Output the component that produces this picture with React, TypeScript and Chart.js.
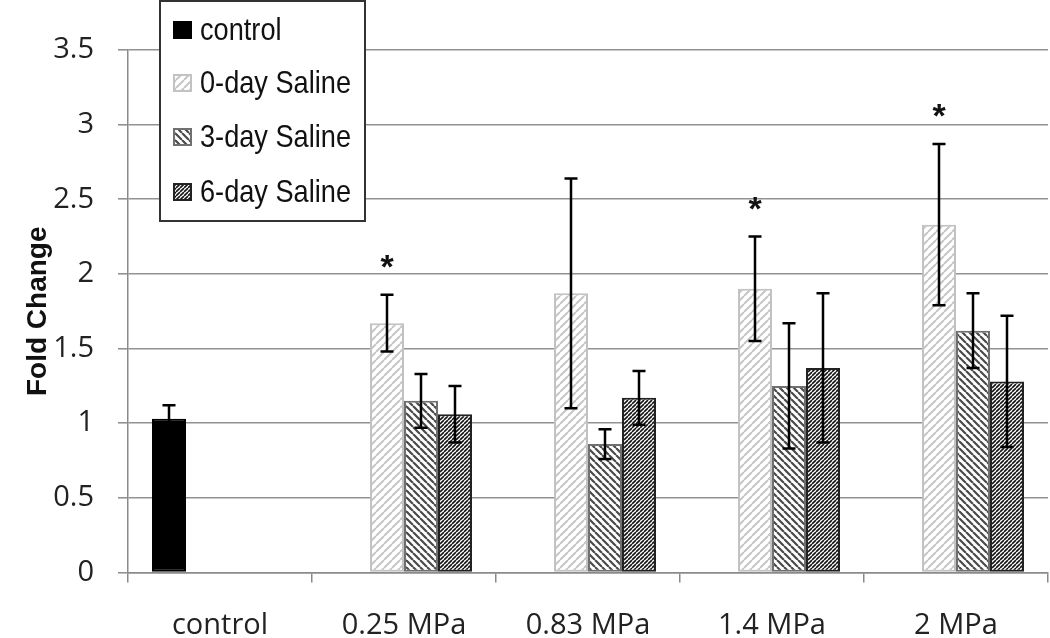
import React, { useEffect, useRef } from 'react';
import { Chart, registerables } from 'chart.js';

Chart.register(...registerables);

const categories = ['control', '0.25 MPa', '0.83 MPa', '1.4 MPa', '2 MPa'];
const seriesNames = ['control', '0-day Saline', '3-day Saline', '6-day Saline'];

const controlValues = [1.03, null, null, null, null];
const controlErr = [0.09, null, null, null, null];
const day0Values = [null, 1.67, 1.87, 1.9, 2.33];
const day0Err = [null, 0.19, 0.77, 0.35, 0.54];
const day3Values = [null, 1.15, 0.86, 1.25, 1.62];
const day3Err = [null, 0.18, 0.1, 0.42, 0.25];
const day6Values = [null, 1.06, 1.17, 1.37, 1.28];
const day6Err = [null, 0.19, 0.18, 0.5, 0.44];
// asterisk shown above the 0-day Saline bar
const significant = [false, true, false, true, true];

const yMin = 0;
const yMax = 3.5;
const yStep = 0.5;

function hatch(size: number, color: string, lw: number, dir: '/' | '\\') {
  const c = document.createElement('canvas');
  c.width = size;
  c.height = size;
  const g = c.getContext('2d')!;
  g.fillStyle = '#ffffff';
  g.fillRect(0, 0, size, size);
  g.strokeStyle = color;
  g.lineWidth = lw;
  g.beginPath();
  for (const x0 of [-size, 0, size]) {
    if (dir === '/') {
      g.moveTo(x0, size);
      g.lineTo(x0 + size, 0);
    } else {
      g.moveTo(x0, 0);
      g.lineTo(x0 + size, size);
    }
  }
  g.stroke();
  const ctx = document.createElement('canvas').getContext('2d')!;
  return ctx.createPattern(c, 'repeat')!;
}

export default function App() {
  const ref = useRef<HTMLCanvasElement>(null);

  useEffect(() => {
    document.body.style.margin = '0';
    const canvas = ref.current!;
    const p0 = hatch(8, '#c6c6c6', 2, '/');
    const p3 = hatch(7, '#4a4a4a', 2.2, '\\');
    const p6 = hatch(4, '#151515', 1.6, '/');

    const styles = [
      { bg: '#000000', border: '#000000' },
      { bg: p0, border: '#c2c2c2' },
      { bg: p3, border: '#707070' },
      { bg: p6, border: '#222222' },
    ];
    const values = [controlValues, day0Values, day3Values, day6Values];
    const errs = [controlErr, day0Err, day3Err, day6Err];

    const overlay = {
      id: 'overlay',
      afterDatasetsDraw(chart: any) {
        const ctx = chart.ctx;
        const ys = chart.scales.y;
        ctx.save();
        ctx.strokeStyle = '#000';
        ctx.lineWidth = 2.5;
        values.forEach((vals, i) => {
          const meta = chart.getDatasetMeta(i);
          vals.forEach((v, j) => {
            const e = errs[i][j];
            if (v == null || e == null) return;
            const x = meta.data[j].x;
            const yt = ys.getPixelForValue(v + e);
            const yb = ys.getPixelForValue(v - e);
            ctx.beginPath();
            ctx.moveTo(x, yt);
            ctx.lineTo(x, yb);
            ctx.moveTo(x - 6.5, yt);
            ctx.lineTo(x + 6.5, yt);
            ctx.moveTo(x - 6.5, yb);
            ctx.lineTo(x + 6.5, yb);
            ctx.stroke();
          });
        });
        // significance asterisks
        const meta0 = chart.getDatasetMeta(1);
        ctx.fillStyle = '#111';
        ctx.font = 'bold 34px "Liberation Sans", Arial, sans-serif';
        ctx.textAlign = 'center';
        ctx.textBaseline = 'alphabetic';
        significant.forEach((s, j) => {
          const v = day0Values[j];
          const e = day0Err[j];
          if (!s || v == null || e == null) return;
          const x = meta0.data[j].x;
          const yt = ys.getPixelForValue(v + e);
          ctx.fillText('*', x, yt - 17);
        });
        ctx.restore();
      },
      afterDraw(chart: any) {
        const ctx = chart.ctx;
        ctx.save();
        // legend box
        const bx = 160, by = 1, bw = 205, bh = 220;
        ctx.fillStyle = '#ffffff';
        ctx.fillRect(bx, by, bw, bh);
        ctx.strokeStyle = '#333';
        ctx.lineWidth = 2;
        ctx.strokeRect(bx, by, bw, bh);
        const rows = [30, 83, 137, 192];
        seriesNames.forEach((name, i) => {
          const cy = rows[i];
          ctx.fillStyle = styles[i].bg as any;
          ctx.fillRect(174, cy - 8, 17, 16);
          ctx.strokeStyle = styles[i].border;
          ctx.lineWidth = 2;
          ctx.strokeRect(174, cy - 8, 17, 16);
          ctx.save();
          ctx.translate(200, cy);
          ctx.scale(0.97, 1.1);
          ctx.fillStyle = '#111';
          ctx.font = '28px "Liberation Sans", Arial, sans-serif';
          ctx.textAlign = 'left';
          ctx.textBaseline = 'middle';
          ctx.fillText(name, 0, 1);
          ctx.restore();
        });
        ctx.restore();
      },
    };

    const chart = new Chart(canvas, {
      type: 'bar',
      data: {
        labels: categories,
        datasets: values.map((vals, i) => ({
          label: seriesNames[i],
          data: vals as any,
          backgroundColor: styles[i].bg as any,
          borderColor: styles[i].border,
          borderWidth: 2,
          borderSkipped: false,
          categoryPercentage: 136 / 184,
          barPercentage: 1,
        })),
      },
      options: {
        responsive: false,
        animation: false,
        devicePixelRatio: 1,
        layout: { padding: { top: 50, right: 2, left: 0, bottom: 0 } },
        plugins: { legend: { display: false }, tooltip: { enabled: false } },
        scales: {
          x: {
            afterFit: (s: any) => { s.height = 65.5; },
            grid: {
              offset: true,
              drawOnChartArea: false,
              drawTicks: true,
              tickLength: 10,
              color: '#8a8a8a',
              lineWidth: 1.5,
            },
            border: { display: true, color: '#8a8a8a', width: 1.5 },
            ticks: {
              color: '#222',
              padding: 26,
              font: { family: '"Open Sans", sans-serif', size: 29 },
            },
          },
          y: {
            min: yMin,
            max: yMax,
            afterFit: (s: any) => { s.width = 128; },
            grid: { color: '#929292', lineWidth: 1.6, tickLength: 10 },
            border: { display: true, color: '#8a8a8a', width: 1.5 },
            ticks: {
              stepSize: yStep,
              color: '#222',
              padding: 24,
              callback: (v: any) => String(Number(v)),
              font: { family: '"Open Sans", sans-serif', size: 29 },
            },
            title: {
              display: true,
              text: 'Fold Change',
              color: '#111',
              padding: { top: 21, bottom: 0 },
              font: { family: '"Liberation Sans", Arial, sans-serif', size: 28, weight: 'bold' },
            },
          },
        },
      },
      plugins: [overlay],
    });
    return () => chart.destroy();
  }, []);

  return (
    <div style={{ width: 1050, height: 638, background: '#fff' }}>
      <canvas ref={ref} width={1050} height={638} style={{ display: 'block' }} />
    </div>
  );
}
